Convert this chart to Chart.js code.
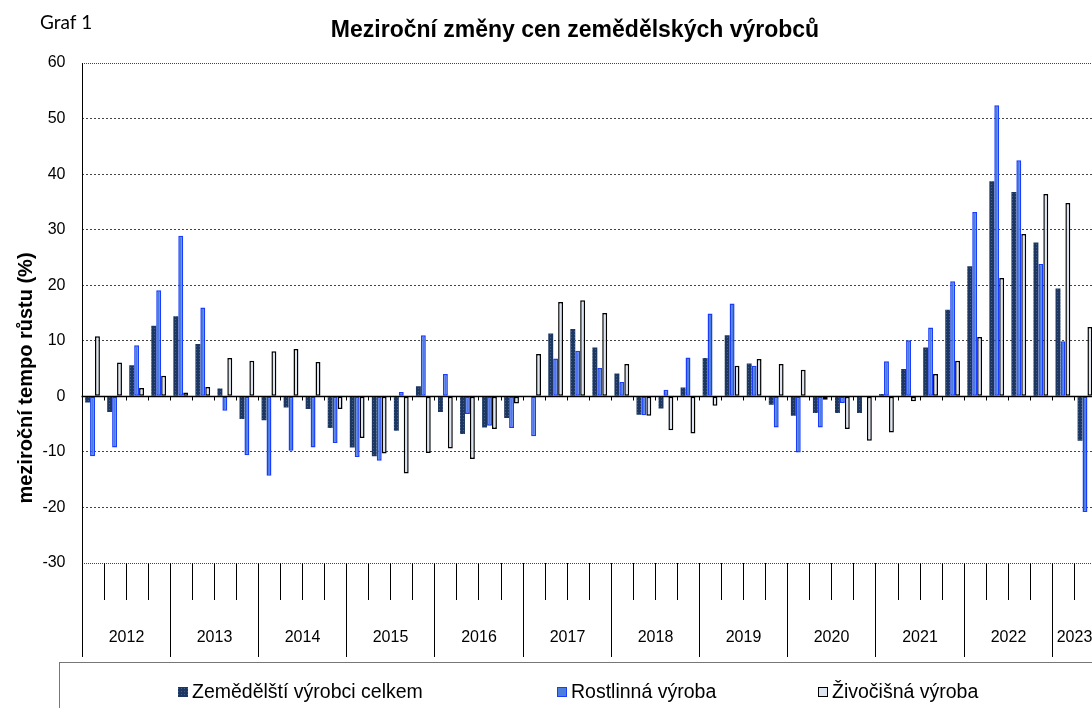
<!DOCTYPE html>
<html lang="cs">
<head>
<meta charset="utf-8">
<title>Meziroční změny cen zemědělských výrobců</title>
<script src="https://cdn.jsdelivr.net/npm/chart.js@4.4.1/dist/chart.umd.min.js"></script>
<style>
    html, body { margin: 0; padding: 0; background: #fff; overflow: hidden; }
    #wrap { position: absolute; left: 0; top: 0; width: 1100px; height: 708px; }
</style>
</head>
<body>
<div id="wrap"><canvas id="chart" width="1100" height="708"></canvas></div>
<script>
// Data (quarterly, year-on-year change in %)
const years = [2012, 2013, 2014, 2015, 2016, 2017, 2018, 2019, 2020, 2021, 2022, 2023];
const quartersPerYear = [4, 4, 4, 4, 4, 4, 4, 4, 4, 4, 4, 2];
const seriesNames = ["Zemědělští výrobci celkem", "Rostlinná výroba", "Živočišná výroba"];

const celkem = [
    -1.1, -2.8, 5.6, 12.7,
    14.4, 9.4, 1.4, -4.1,
    -4.3, -2.0, -2.3, -5.7,
    -9.2, -10.8, -6.2, 1.8,
    -2.8, -6.8, -5.6, -3.9,
    -0.1, 11.3, 12.1, 8.8,
    4.1, -3.3, -2.2, 1.6,
    6.9, 11.0, 5.9, -1.5,
    -3.5, -3.0, -3.0, -3.0,
    0.4, 4.9, 8.8, 15.6,
    23.4, 38.7, 36.8, 27.7,
    19.4, -8.0
];
const rostlinna = [
    -10.8, -9.2, 9.2, 19.1,
    28.9, 16.0, -2.6, -10.6,
    -14.3, -9.8, -9.2, -8.4,
    -10.9, -11.6, 0.8, 11.0,
    4.0, -3.2, -5.3, -5.7,
    -7.2, 6.8, 8.2, 5.1,
    2.6, -3.4, 1.2, 7.0,
    14.9, 16.7, 5.5, -5.6,
    -10.1, -5.6, -1.2, -0.1,
    6.3, 10.1, 12.4, 20.7,
    33.2, 52.4, 42.5, 23.8,
    9.9, -20.8
];
const zivocisna = [
    10.8, 6.1, 1.5, 3.7,
    0.7, 1.7, 6.9, 6.4,
    8.1, 8.5, 6.2, -2.3,
    -7.5, -10.3, -13.9, -10.2,
    -9.4, -11.3, -5.9, -1.3,
    7.6, 17.0, 17.3, 15.0,
    5.8, -3.5, -6.1, -6.7,
    -1.7, 5.5, 6.7, 5.8,
    4.8, -0.6, -5.9, -8.0,
    -6.5, -0.9, 4.0, 6.4,
    10.7, 21.3, 29.2, 36.4,
    34.8, 12.5
];

const yMin = -30, yMax = 60, yStep = 10;

document.addEventListener("DOMContentLoaded", () => {
    const FONT = '"Liberation Sans", Arial, sans-serif';

    // one label per quarter, e.g. "2012 Q1"
    const labels = [];
    years.forEach((year, i) => {
        for (let q = 1; q <= quartersPerYear[i]; q++) labels.push(`${year} Q${q}`);
    });

    // dotted navy fill like the original
    function navyPattern() {
        const c = document.createElement('canvas');
        c.width = 3; c.height = 3;
        const g = c.getContext('2d');
        g.fillStyle = '#1d3760';
        g.fillRect(0, 0, 3, 3);
        g.fillStyle = '#3f5f8c';
        g.fillRect(1, 1, 1, 1);
        return g.createPattern(c, 'repeat');
    }
    const navy = navyPattern();

    const colors = [
        { fill: navy, border: 'rgba(0,0,0,0)', width: 0 },
        { fill: '#4a7ddc', border: '#1a3cff', width: 1.5 },
        { fill: '#dce5f0', border: '#000000', width: 1.5 }
    ];

    // category boundary helper
    function edgeFn(x) {
        const cw = x.getPixelForValue(1) - x.getPixelForValue(0);
        return i => Math.round(x.getPixelForValue(0) - cw / 2 + i * cw) + 0.5;
    }

    // titles, axis decorations and legend
    const decorations = {
        id: 'decorations',
        afterDatasetsDraw(chart) {
            const { ctx, chartArea, scales: { x, y } } = chart;
            const y0 = Math.round(y.getPixelForValue(0)) + 0.5;
            const edge = edgeFn(x);
            ctx.save();
            ctx.strokeStyle = '#000';
            ctx.lineWidth = 1.3;
            ctx.beginPath();
            ctx.moveTo(chartArea.left, y0);
            ctx.lineTo(chartArea.right, y0);
            ctx.stroke();
            // small ticks under the zero axis
            ctx.lineWidth = 1;
            ctx.beginPath();
            for (let i = 1; i < labels.length; i++) {
                ctx.moveTo(edge(i), y0);
                ctx.lineTo(edge(i), y0 + 4);
            }
            ctx.stroke();
            ctx.restore();
        },
        afterDraw(chart) {
            const { ctx, chartArea, scales: { x } } = chart;
            ctx.save();

            // "Graf 1" and title
            ctx.fillStyle = '#000';
            ctx.textBaseline = 'middle';
            ctx.textAlign = 'left';
            ctx.font = '19px Lato, "Open Sans", sans-serif';
            ctx.fillText('Graf 1', 40, 23);
            ctx.textAlign = 'center';
            ctx.font = 'bold 23px ' + FONT;
            ctx.fillText('Meziroční změny cen zemědělských výrobců', 575, 31);

            // y axis title
            ctx.save();
            ctx.translate(26, 378);
            ctx.rotate(-Math.PI / 2);
            ctx.font = 'bold 20px ' + FONT;
            ctx.fillText('meziroční tempo růstu (%)', 0, 0);
            ctx.restore();

            // left axis line
            const bottom = chartArea.bottom;
            ctx.strokeStyle = '#000';
            ctx.lineWidth = 1;
            ctx.beginPath();
            ctx.moveTo(Math.round(chartArea.left) + 0.5, chartArea.top);
            ctx.lineTo(Math.round(chartArea.left) + 0.5, bottom + 94);
            ctx.stroke();

            // quarter ticks, year separators, year labels
            const edge = edgeFn(x);
            ctx.font = '16px ' + FONT;
            ctx.textAlign = 'center';
            let idx = 0;
            years.forEach((year, i) => {
                const n = quartersPerYear[i];
                ctx.beginPath();
                ctx.moveTo(edge(idx), bottom);
                ctx.lineTo(edge(idx), bottom + 94);
                for (let q = 1; q < n; q++) {
                    ctx.moveTo(edge(idx + q), bottom);
                    ctx.lineTo(edge(idx + q), bottom + 37);
                }
                ctx.moveTo(edge(idx + n), bottom);
                ctx.lineTo(edge(idx + n), bottom + 94);
                ctx.stroke();
                ctx.fillText(String(year), (edge(idx) + edge(idx + n)) / 2, bottom + 75);
                idx += n;
            });

            // legend box
            ctx.strokeStyle = '#777';
            ctx.strokeRect(59.5, 662.5, 1100, 80);
            const legendX = [178, 557, 818];
            ctx.font = '19.5px ' + FONT;
            ctx.textAlign = 'left';
            seriesNames.forEach((name, i) => {
                const lx = legendX[i];
                ctx.fillStyle = colors[i].fill;
                ctx.fillRect(lx, 687, 10, 10);
                if (colors[i].width) {
                    ctx.strokeStyle = colors[i].border;
                    ctx.lineWidth = 1;
                    ctx.strokeRect(lx + 0.5, 687.5, 9, 9);
                }
                ctx.fillStyle = '#000';
                ctx.fillText(name, lx + 14, 693);
            });

            ctx.restore();
        }
    };

    const datasets = [celkem, rostlinna, zivocisna].map((data, i) => ({
        label: seriesNames[i],
        data: data,
        backgroundColor: colors[i].fill,
        borderColor: colors[i].border,
        borderWidth: colors[i].width,
        borderSkipped: false,
        categoryPercentage: 0.67,
        barPercentage: 1.0
    }));

    new Chart(document.getElementById('chart'), {
        type: 'bar',
        data: { labels: labels, datasets: datasets },
        options: {
            responsive: false,
            animation: false,
            devicePixelRatio: 1,
            layout: { padding: { left: 0, top: 63, right: 4, bottom: 145 } },
            plugins: {
                legend: { display: false },
                title: { display: false },
                tooltip: { enabled: false }
            },
            scales: {
                x: {
                    display: false
                },
                y: {
                    min: yMin,
                    max: yMax,
                    afterFit: scale => { scale.width = 81.5; },
                    ticks: {
                        stepSize: yStep,
                        padding: 16,
                        color: '#000',
                        font: { family: FONT, size: 16 }
                    },
                    grid: {
                        drawTicks: false,
                        color: ctx => (ctx.tick && ctx.tick.value === 0) ? 'rgba(0,0,0,0)' : '#444',
                        lineWidth: 1
                    },
                    border: {
                        display: false,
                        dash: ctx => (ctx.tick && (ctx.tick.value === yMin || ctx.tick.value === yMax)) ? [1, 1] : [2, 2]
                    }
                }
            }
        },
        plugins: [decorations]
    });
});
</script>
</body>
</html>
